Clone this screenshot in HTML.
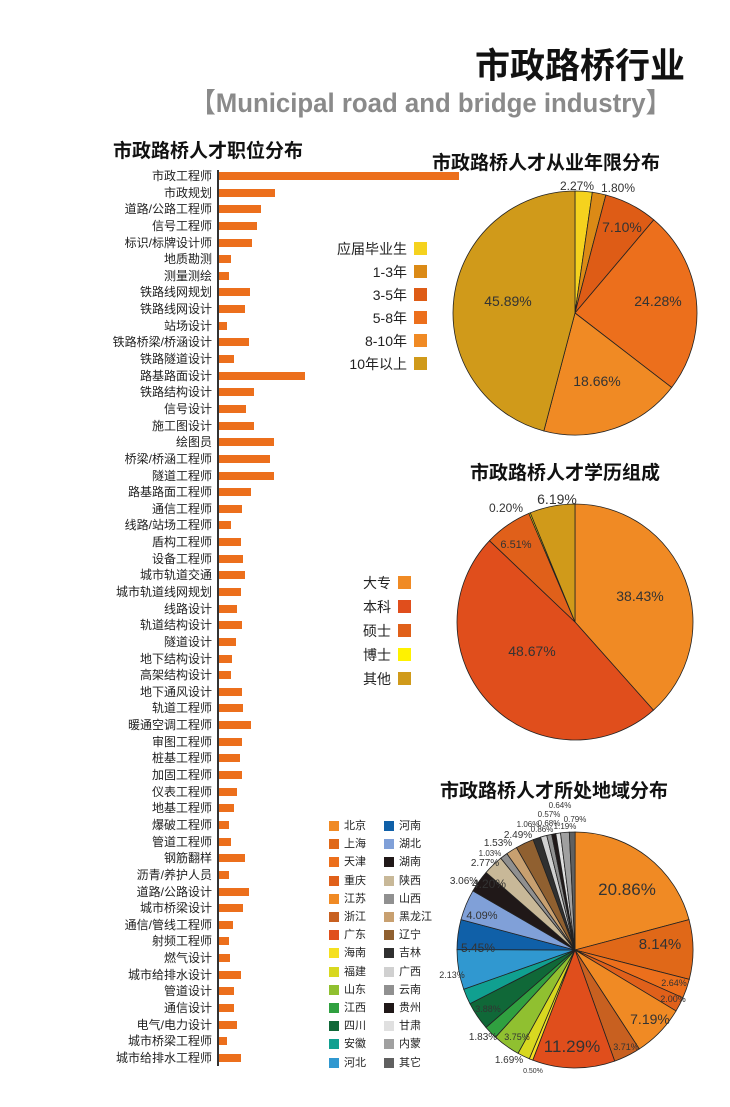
<!DOCTYPE html>
<html><head><meta charset="utf-8"><style>
body{margin:0;background:#fff;width:730px;height:1107px;overflow:hidden;position:relative;font-family:"Liberation Sans","Noto Sans CJK SC",sans-serif;}
.a{position:absolute;white-space:nowrap;}
</style></head><body>
<div class="a" style="right:45px;top:38px;font-size:35px;font-weight:bold;color:#111;">市政路桥行业</div>
<div class="a" style="left:190px;top:81px;font-size:27px;font-weight:bold;color:#8a8a8a;transform:scaleX(0.955);transform-origin:0 0;">【Municipal road and bridge industry】</div>
<div class="a" style="left:113px;top:136px;font-size:19px;font-weight:bold;color:#111;">市政路桥人才职位分布</div>
<div class="a" style="left:432px;top:148px;font-size:19px;font-weight:bold;color:#111;">市政路桥人才从业年限分布</div>
<div class="a" style="left:470px;top:458px;font-size:19px;font-weight:bold;color:#111;">市政路桥人才学历组成</div>
<div class="a" style="left:440px;top:776px;font-size:19px;font-weight:bold;color:#111;">市政路桥人才所处地域分布</div>
<div id="bars"></div>
<svg id="sv" width="730" height="1107" style="position:absolute;left:0;top:0" xmlns="http://www.w3.org/2000/svg"></svg>
<script>
var labels=["市政工程师","市政规划","道路/公路工程师","信号工程师","标识/标牌设计师","地质勘测","测量测绘","铁路线网规划","铁路线网设计","站场设计","铁路桥梁/桥涵设计","铁路隧道设计","路基路面设计","铁路结构设计","信号设计","施工图设计","绘图员","桥梁/桥涵工程师","隧道工程师","路基路面工程师","通信工程师","线路/站场工程师","盾构工程师","设备工程师","城市轨道交通","城市轨道线网规划","线路设计","轨道结构设计","隧道设计","地下结构设计","高架结构设计","地下通风设计","轨道工程师","暖通空调工程师","审图工程师","桩基工程师","加固工程师","仪表工程师","地基工程师","爆破工程师","管道工程师","钢筋翻样","沥青/养护人员","道路/公路设计","城市桥梁设计","通信/管线工程师","射频工程师","燃气设计","城市给排水设计","管道设计","通信设计","电气/电力设计","城市桥梁工程师","城市给排水工程师"];
var ends=[459,275,261,257,252,231,229,250,245,227,249,234,305,254,246,254,274,270,274,251,242,231,241,243,245,241,237,242,236,232,231,242,243,251,242,240,242,237,234,229,231,245,229,249,243,233,229,230,241,234,234,237,227,241];
var h='<div class="a" style="left:217px;top:170px;width:2px;height:896px;background:#333"></div>';
for(var i=0;i<labels.length;i++){var y=176+i*16.64;
h+='<div class="a" style="right:518px;top:'+(y-8)+'px;font-size:12px;color:#222;line-height:16px">'+labels[i]+'</div>';
h+='<div class="a" style="left:219px;top:'+(y-4)+'px;width:'+(ends[i]-219)+'px;height:8px;background:#ec6f1c"></div>';}
function leg(x,y0,dy,items,fs){for(var i=0;i<items.length;i++){var y=y0+i*dy;
h+='<div class="a" style="right:'+(730-x+7)+'px;top:'+(y-9)+'px;font-size:'+fs+'px;color:#222;line-height:18px">'+items[i][0]+'</div>';
h+='<div class="a" style="left:'+x+'px;top:'+(y-7)+'px;width:13px;height:13px;background:'+items[i][1]+'"></div>';}}
leg(414,249,23,[["应届毕业生","#f5d21e"],["1-3年","#db8a16"],["3-5年","#de5c16"],["5-8年","#ec6f1c"],["8-10年","#f08a24"],["10年以上","#d09a1a"]],14);
leg(398,583,24,[["大专","#f08a24"],["本科","#e04e1c"],["硕士","#e0601a"],["博士","#fff200"],["其他","#d09a1a"]],14);
var reg=[["北京",20.86,"#f08a24"],["上海",8.14,"#e06818"],["天津",2.64,"#ec6f1c"],["重庆",2.00,"#e0601a"],["江苏",7.19,"#f08a24"],["浙江",3.71,"#c86020"],["广东",11.29,"#e04e1c"],["海南",0.50,"#f5e020"],["福建",1.69,"#d8d820"],["山东",3.75,"#90c030"],["江西",1.83,"#30a040"],["四川",3.88,"#106838"],["安徽",2.13,"#10a090"],["河北",5.45,"#3098d0"],["河南",4.09,"#1060a8"],["湖北",4.20,"#80a0d8"],["湖南",3.06,"#201818"],["陕西",2.77,"#c8b898"],["山西",1.03,"#909090"],["黑龙江",1.53,"#c8a070"],["辽宁",2.49,"#906030"],["吉林",1.06,"#303030"],["广西",0.86,"#d0d0d0"],["云南",0.68,"#909090"],["贵州",0.57,"#201818"],["甘肃",0.64,"#e0e0e0"],["内蒙",1.19,"#a0a0a0"],["其它",0.79,"#606060"]];
for(var i=0;i<28;i++){var c=i<14?0:1,r=i%14,x=c?384:329,y=826+r*18.2;
h+='<div class="a" style="left:'+x+'px;top:'+(y-5)+'px;width:10px;height:10px;background:'+reg[i][2]+'"></div>';
h+='<div class="a" style="left:'+(x+15)+'px;top:'+(y-8)+'px;font-size:11px;color:#222;line-height:16px">'+reg[i][0]+'</div>';}
document.getElementById('bars').innerHTML=h;
var s='';
function pie(cx,cy,R,data){var a=0;data.forEach(function(d){var a2=a+d[0]/100*2*Math.PI;
var x1=cx+R*Math.sin(a),y1=cy-R*Math.cos(a),x2=cx+R*Math.sin(a2),y2=cy-R*Math.cos(a2);
s+='<path d="M'+cx+' '+cy+'L'+x1+' '+y1+'A'+R+' '+R+' 0 '+((a2-a)>Math.PI?1:0)+' 1 '+x2+' '+y2+'Z" fill="'+d[1]+'" stroke="#222" stroke-width="0.8"/>';a=a2;});}
pie(575,313,122,[[2.27,"#f5d21e"],[1.80,"#db8a16"],[7.10,"#de5c16"],[24.28,"#ec6f1c"],[18.66,"#f08a24"],[45.89,"#d09a1a"]]);
pie(575,622,118,[[38.43,"#f08a24"],[48.67,"#e04e1c"],[6.51,"#e0601a"],[0.20,"#fff200"],[6.19,"#d09a1a"]]);
pie(575,950,118,reg.map(function(r){return [r[1],r[2]]}));
function t(x,y,txt,fs,col){s+='<text x="'+x+'" y="'+y+'" font-size="'+fs+'" fill="'+(col||'#333')+'" text-anchor="middle" font-family="Liberation Sans,sans-serif">'+txt+'</text>';}
t(577,190,"2.27%",12);t(618,192,"1.80%",12);t(622,232,"7.10%",14);t(658,306,"24.28%",14);t(597,386,"18.66%",14);t(508,306,"45.89%",14);
t(640,601,"38.43%",14);t(532,656,"48.67%",14);t(516,548,"6.51%",11);t(506,512,"0.20%",12);t(557,504,"6.19%",14);
t(627,895,"20.86%",17);t(660,949,"8.14%",15);t(674,986,"2.64%",9);t(673,1002,"2.00%",9);t(650,1024,"7.19%",14);t(626,1050,"3.71%",9);t(572,1052,"11.29%",17);
t(533,1073,"0.50%",7);t(509,1063,"1.69%",10);t(517,1040,"3.75%",9);t(483,1040,"1.83%",10);t(488,1012,"3.88%",9);t(452,978,"2.13%",9);t(478,952,"5.45%",12);t(482,919,"4.09%",11);t(489,888,"4.20%",12);t(464,884,"3.06%",10);t(485,866,"2.77%",10);t(490,856,"1.03%",8);t(498,846,"1.53%",10);t(518,838,"2.49%",10);t(528,827,"1.06%",8);t(542,832,"0.86%",8);t(549,826,"0.68%",8);t(565,829,"1.19%",8);t(549,817,"0.57%",8);t(575,822,"0.79%",8);t(560,808,"0.64%",8);
document.getElementById('sv').innerHTML=s;
</script>
</body></html>
